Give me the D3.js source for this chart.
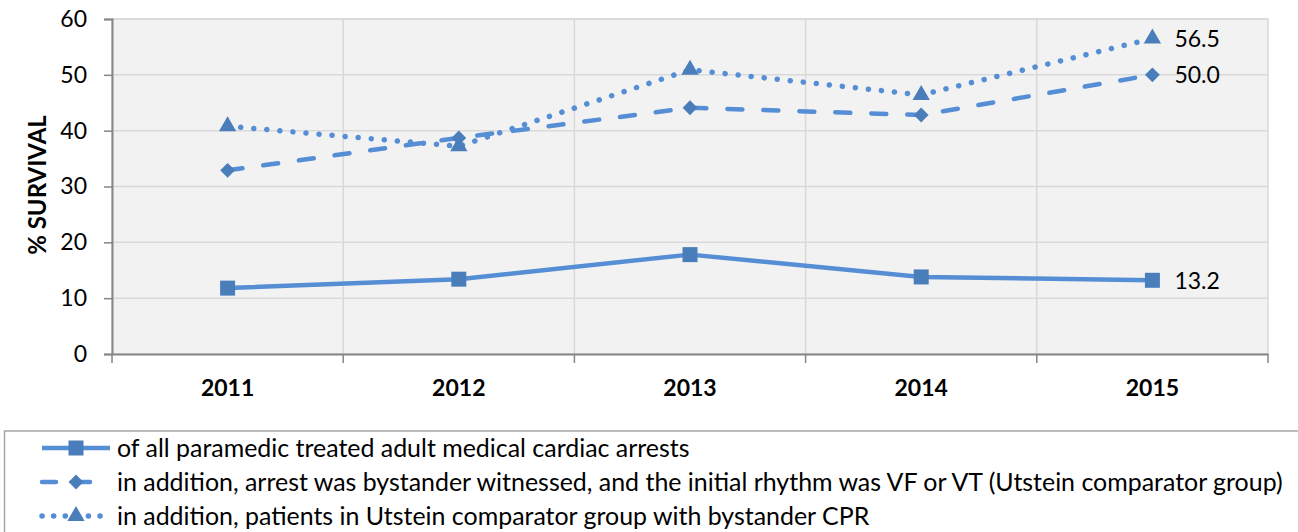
<!DOCTYPE html>
<html><head><meta charset="utf-8">
<script src="https://cdn.jsdelivr.net/npm/d3@7"></script>
<style>body{margin:0;background:#fff}svg{display:block}text{font-family:Lato,"Open Sans",sans-serif}</style>
</head><body>
<svg id="c" width="1298" height="532"></svg>
<script>
const years = ["2011","2012","2013","2014","2015"];
const allArrests = [11.8, 13.4, 17.8, 13.8, 13.2];
const witnessedVF = [32.9, 38.7, 44.1, 42.8, 50.0];
const withCPR = [40.8, 37.2, 50.9, 46.4, 56.5];
const yTicks = [0,10,20,30,40,50,60];
const seriesNames = [
  "of all paramedic treated adult medical cardiac arrests",
  "in addition, arrest was bystander witnessed, and the initial rhythm was VF or VT (Utstein comparator group)",
  "in addition, patients in Utstein comparator group with bystander CPR"
];

const svg = d3.select("#c");
const L=112, R=1268, T=19, B=354;
const x = d3.scaleBand().domain(years).range([L,R]);
const y = d3.scaleLinear().domain([0,60]).range([B,T]);
const lineCol="#558ED5", markCol="#4A7EBB";

svg.append("rect").attr("x",L).attr("y",T).attr("width",R-L).attr("height",B-T).attr("fill","#F2F2F2").attr("stroke","#D9D9D9").attr("stroke-width",1.5);
svg.append("g").selectAll("line").data(yTicks.slice(1)).join("line")
  .attr("x1",L).attr("x2",R).attr("y1",d=>y(d)).attr("y2",d=>y(d)).attr("stroke","#D9D9D9").attr("stroke-width",1.5);
svg.append("g").selectAll("line").data(years.slice(1)).join("line")
  .attr("x1",d=>x(d)).attr("x2",d=>x(d)).attr("y1",T).attr("y2",B).attr("stroke","#D9D9D9").attr("stroke-width",1.5);

const ya = svg.append("g").attr("transform",`translate(${L},0)`)
  .call(d3.axisLeft(y).tickValues(yTicks).tickSize(8).tickPadding(17));
ya.select(".domain").attr("stroke","#868686").attr("stroke-width",2);
ya.selectAll(".tick line").attr("stroke","#868686").attr("stroke-width",1.5);
ya.selectAll(".tick text").attr("font-size",23).attr("fill","#000").attr("font-family","Lato, sans-serif");

const xa = svg.append("g").attr("transform",`translate(0,${B})`)
  .call(d3.axisBottom(x).tickSize(0).tickPadding(26));
xa.select(".domain").attr("stroke","#868686").attr("stroke-width",2);
xa.selectAll(".tick text").attr("font-size",23).attr("font-weight","bold").attr("fill","#000").attr("font-family","Lato, sans-serif");
svg.append("g").selectAll("line").data([L, ...years.slice(1).map(d=>x(d)), R]).join("line")
  .attr("x1",d=>d).attr("x2",d=>d).attr("y1",B).attr("y2",B+9).attr("stroke","#868686").attr("stroke-width",1.5);

svg.append("text").attr("transform","translate(46,185) rotate(-90)").attr("text-anchor","middle")
  .attr("font-size",24).attr("font-weight","bold").text("% SURVIVAL");

const cx = d=>x(d)+x.bandwidth()/2;
const line = d3.line().x((d,i)=>cx(years[i])).y(d=>y(d));
const sets = [
  {v:allArrests, dash:null, sym:d3.symbolSquare, size:225, rot:0},
  {v:witnessedVF, dash:"15,21", sym:d3.symbolSquare, size:110, rot:45},
  {v:withCPR, dash:"0.1,13", sym:d3.symbolTriangle, size:130, rot:0}
];
sets.forEach(s=>{
  svg.append("path").datum(s.v).attr("d",line).attr("fill","none").attr("stroke",lineCol)
    .attr("stroke-width",s.dash==="0.1,13"?5.5:4.5).attr("stroke-linecap",s.dash?"round":"butt").attr("stroke-linejoin","round")
    .attr("stroke-dasharray",s.dash);
  svg.append("g").selectAll("path").data(s.v).join("path")
    .attr("d",d3.symbol().type(s.sym).size(s.size))
    .attr("transform",(d,i)=>`translate(${cx(years[i])},${y(d)}) rotate(${s.rot})`).attr("fill",markCol);
  const last = s.v[s.v.length-1];
  svg.append("text").attr("x",cx(years[4])+22).attr("y",y(last)).attr("dy","0.36em")
    .attr("font-size",23).text(last.toFixed(1));
});

svg.append("rect").attr("x",4.5).attr("y",431).attr("width",1310).attr("height",120).attr("fill","#fff").attr("stroke","#A6A6A6").attr("stroke-width",1.5);
const rowsY=[448,482,516];
const legTexts=[];
sets.forEach((s,i)=>{
  const g = svg.append("g");
  g.append("line").attr("x1",42).attr("x2",110).attr("y1",rowsY[i]).attr("y2",rowsY[i])
    .attr("stroke",lineCol).attr("stroke-width",s.dash==="0.1,13"?5.5:4.5).attr("stroke-linecap",s.dash?"round":"butt")
    .attr("stroke-dasharray",s.dash==="0.1,13"?"0.1,11.5":(s.dash?"14,20":null));
  g.append("path").attr("d",d3.symbol().type(s.sym).size(s.size)).attr("transform",`translate(76,${rowsY[i]}) rotate(${s.rot})`).attr("fill",markCol);
  legTexts.push(g.append("text").attr("x",117).attr("y",rowsY[i]).attr("dy","0.36em").attr("font-size",20).text(seriesNames[i]));
});
const w=legTexts[1].node().getComputedTextLength();
const fs=20*1166/w;
legTexts.forEach(t=>t.attr("font-size",fs));
</script>
</body></html>
